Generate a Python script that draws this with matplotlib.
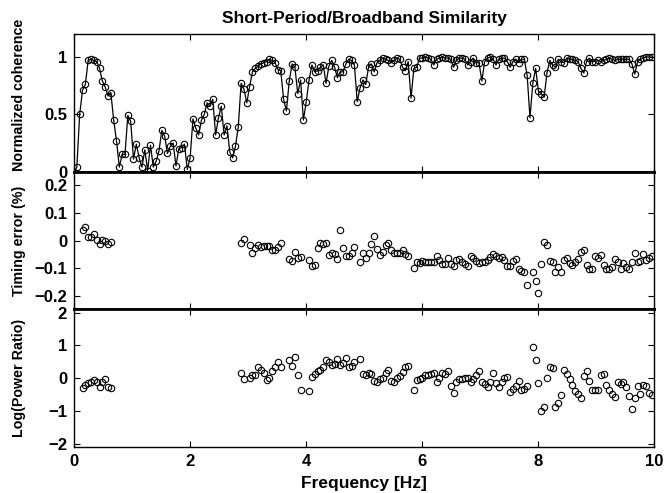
"""Short-period vs broadband similarity: coherence, timing error and power ratio."""

from __future__ import annotations

import matplotlib

matplotlib.use("Agg")
import matplotlib.pyplot as plt
import numpy as np

nan = np.nan

# Frequency bin spacing (100 Hz / 2048 samples), one value per bin below.
FREQ_STEP_HZ = 100.0 / 2048.0

coherence = [
    0.00, 0.04, 0.50, 0.71, 0.76, 0.97, 0.98, 0.97, 0.96, 0.90,
    0.79, 0.74, 0.66, 0.69, 0.45, 0.27, 0.04, 0.15, 0.15, 0.49,
    0.44, 0.11, 0.24, 0.12, 0.04, 0.19, 0.01, 0.23, 0.04, 0.09,
    0.18, 0.36, 0.31, 0.16, 0.22, 0.25, 0.05, 0.20, 0.21, 0.24,
    0.02, 0.12, 0.46, 0.38, 0.32, 0.45, 0.50, 0.60, 0.57, 0.63,
    0.32, 0.47, 0.57, 0.32, 0.40, 0.17, 0.12, 0.22, 0.39, 0.77,
    0.72, 0.60, 0.74, 0.87, 0.90, 0.92, 0.94, 0.95, 0.96, 0.98,
    0.97, 0.95, 0.89, 0.88, 0.63, 0.53, 0.79, 0.94, 0.91, 0.68,
    0.80, 0.45, 0.61, 0.80, 0.93, 0.87, 0.88, 0.91, 0.93, 0.77,
    0.92, 0.97, 0.91, 0.82, 0.87, 0.87, 0.94, 0.98, 0.97, 0.93,
    0.61, 0.73, 0.80, 0.76, 0.91, 0.94, 0.87, 0.95, 0.97, 0.99,
    0.98, 0.97, 0.95, 0.97, 0.99, 0.98, 0.91, 0.88, 0.96, 0.64,
    0.90, 0.91, 0.99, 0.99, 1.00, 0.99, 0.98, 0.93, 0.98, 0.99,
    1.00, 0.99, 0.99, 0.98, 0.91, 0.97, 0.99, 0.99, 0.98, 0.93,
    0.96, 0.99, 0.95, 0.95, 0.79, 0.96, 0.99, 1.00, 0.98, 0.93,
    0.98, 0.99, 0.99, 0.96, 0.91, 0.96, 0.98, 0.95, 0.98, 0.98,
    0.84, 0.47, 0.77, 0.90, 0.70, 0.68, 0.65, 0.86, 0.97, 0.93,
    0.91, 0.98, 0.96, 0.95, 0.99, 0.98, 0.98, 0.97, 0.96, 0.90,
    0.86, 0.96, 0.99, 0.96, 0.96, 0.97, 0.96, 0.97, 0.98, 0.99,
    0.98, 0.97, 0.98, 0.98, 0.98, 0.98, 0.98, 0.94, 0.85, 0.96,
    0.98, 0.99, 1.00, 1.00, 1.00,
]

# Timing error (%), nan where coherence was too low to measure.
timing_error = (
    [nan] * 3
    + [0.038, 0.048, 0.011, 0.011, 0.023, 0.002, -0.012, 0.002, 0.000, -0.011,
       -0.006]
    + [nan] * 45
    + [-0.010, 0.005]
    + [nan]
    + [-0.017, -0.045, -0.028, -0.018, -0.022, -0.021, -0.020, -0.021, -0.033,
       -0.034, -0.023, -0.010]
    + [nan] * 2
    + [-0.068, -0.075, -0.043, -0.062, -0.060]
    + [nan] * 2
    + [-0.072, -0.094, -0.090, -0.026, -0.010, -0.013, -0.010, -0.054, -0.045,
       -0.048, -0.067, 0.037, -0.027, -0.056, -0.057, -0.044, -0.023]
    + [nan]
    + [-0.079, -0.046, -0.064, -0.046, -0.011, 0.017, -0.030, -0.052, -0.040,
       -0.016, -0.010, -0.034, -0.046, -0.046, -0.046, -0.036, -0.050, -0.058]
    + [nan]
    + [-0.101, -0.079, -0.080, -0.074, -0.077, -0.078, -0.079, -0.077, -0.058,
       -0.071, -0.086, -0.086, -0.062, -0.086, -0.091, -0.069, -0.068, -0.079,
       -0.084, -0.094, -0.055, -0.064, -0.076, -0.083, -0.079, -0.077, -0.071,
       -0.060, -0.049, -0.058, -0.062, -0.060, -0.071, -0.091, -0.091, -0.074,
       -0.066, -0.104, -0.111, -0.113, -0.160]
    + [nan]
    + [-0.113, -0.146, -0.189, -0.085, -0.004, -0.018, -0.073, -0.077, -0.113,
       -0.095, -0.113, -0.071, -0.064, -0.080, -0.089, -0.077, -0.067, -0.040,
       -0.034, -0.089, -0.105, -0.105, -0.056, -0.064, -0.052, -0.089, -0.104,
       -0.104, -0.096, -0.067, -0.077, -0.102, -0.080, -0.096, -0.105, -0.077,
       -0.045, -0.078, -0.074, -0.049, -0.069, -0.064, -0.056]
)

# log10 of short-period / broadband power, same gaps as the timing error.
log_power_ratio = (
    [nan] * 3
    + [-0.29, -0.21, -0.15, -0.11, -0.07, -0.11, -0.26, -0.13, -0.03, -0.26,
       -0.29]
    + [nan] * 45
    + [0.17, -0.03]
    + [nan]
    + [0.02, 0.09, 0.09, 0.33, 0.26, 0.15, -0.05, 0.02, 0.22, 0.33, 0.48, 0.33]
    + [nan] * 2
    + [0.55, 0.38, 0.66, 0.11, -0.36]
    + [nan] * 2
    + [-0.39, 0.04, 0.12, 0.22, 0.26, 0.33, 0.55, 0.48, 0.40, 0.42, 0.60, 0.40,
       0.46, 0.61, 0.35, 0.38, 0.50]
    + [nan]
    + [0.60, 0.12, 0.09, 0.17, 0.12, -0.08, -0.13, -0.03, -0.01, 0.17, 0.25,
       -0.08, -0.11, -0.01, 0.07, 0.19, 0.35, 0.38]
    + [nan]
    + [-0.36, -0.05, -0.03, 0.02, 0.09, 0.09, 0.12, 0.17, -0.11, 0.02, 0.15,
       0.12, 0.22, -0.25, -0.46, -0.13, -0.03, -0.03, -0.01, 0.02, -0.11,
       -0.03, 0.09, 0.21, -0.13, -0.18, -0.28, -0.13, 0.17, -0.15, -0.28,
       -0.13, 0.02, 0.05, -0.42, -0.34, -0.25, -0.08, -0.36, -0.34, -0.25]
    + [nan]
    + [0.94, 0.56, -0.16, -1.00, -0.87, 0.00, 0.33, 0.30, -0.87, -0.77, -0.51,
       0.26, 0.12, -0.03, -0.21, -0.39, -0.47, -0.60, 0.07, 0.22, -0.08, -0.36,
       -0.37, -0.36, 0.09, 0.12, -0.21, -0.36, -0.49, -0.57, -0.11, -0.18,
       -0.11, -0.28, -0.54, -0.93, -0.59, -0.23, -0.49, -0.20, -0.23, -0.44,
       -0.52]
)

x_ticks = [0, 2, 4, 6, 8, 10]
coherence_ticks = [0, 0.5, 1]
coherence_tick_labels = ["0", "0.5", "1"]
timing_ticks = [-0.2, -0.1, 0, 0.1, 0.2]
timing_tick_labels = ["\u22120.2", "\u22120.1", "0", "0.1", "0.2"]
power_ticks = [-2, -1, 0, 1, 2]
power_tick_labels = ["\u22122", "\u22121", "0", "1", "2"]

FONT = "Liberation Sans"


def _style_axis(ax, yticks, ylabels, ylabel: str, label_y: float = 0.5) -> None:
    ax.set_xlim(0, 10)
    ax.set_xticks(x_ticks)
    ax.set_yticks(yticks)
    ax.set_yticklabels(ylabels)
    ax.tick_params(
        direction="in", length=4.5, width=0.8, top=True, right=True,
        labelsize=12, pad=5,
    )
    for label in ax.get_xticklabels() + ax.get_yticklabels():
        label.set_fontweight("bold")
    ax.set_ylabel(ylabel, fontsize=10.3, fontweight="bold")
    ax.yaxis.set_label_coords(-0.082, label_y)
    for spine in ax.spines.values():
        spine.set_linewidth(1.0)


def main() -> None:
    plt.rcParams["font.family"] = [FONT, "DejaVu Sans"]

    freq = np.arange(len(coherence)) * FREQ_STEP_HZ
    timing = np.asarray(timing_error, dtype=float)
    power = np.asarray(log_power_ratio, dtype=float)

    fig = plt.figure(figsize=(6.65, 4.93), dpi=100)
    grid = fig.add_gridspec(
        3, 1, left=0.1113, right=0.9835, top=0.931, bottom=0.0933, hspace=0
    )
    ax_coh = fig.add_subplot(grid[0])
    ax_time = fig.add_subplot(grid[1], sharex=ax_coh)
    ax_pow = fig.add_subplot(grid[2], sharex=ax_coh)

    marker_style = dict(
        marker="o", markersize=4.6, markerfacecolor="none",
        markeredgecolor="black", markeredgewidth=0.8,
    )

    ax_coh.plot(freq, coherence, color="black", linewidth=0.9, **marker_style)
    ax_coh.set_ylim(0, 1.2)
    _style_axis(ax_coh, coherence_ticks, coherence_tick_labels,
                "Normalized coherence", label_y=0.56)
    ax_coh.set_title("Short-Period/Broadband Similarity", fontsize=12.5,
                     fontweight="bold", pad=8)

    ax_time.plot(freq, timing, linestyle="none", **marker_style)
    ax_time.set_ylim(-0.25, 0.25)
    _style_axis(ax_time, timing_ticks, timing_tick_labels, "Timing error (%)")

    ax_pow.plot(freq, power, linestyle="none", **marker_style)
    ax_pow.set_ylim(-2.1, 2.1)
    _style_axis(ax_pow, power_ticks, power_tick_labels, "Log(Power Ratio)")
    ax_pow.set_xlabel("Frequency [Hz]", fontsize=12.5, fontweight="bold",
                      labelpad=5)

    for ax in (ax_coh, ax_time):
        ax.tick_params(labelbottom=False)
        ax.spines["bottom"].set_linewidth(2.0)
    for ax in (ax_time, ax_pow):
        ax.spines["top"].set_linewidth(2.0)

    fig.savefig("out.png", dpi=100)
    plt.close(fig)


if __name__ == "__main__":
    main()
